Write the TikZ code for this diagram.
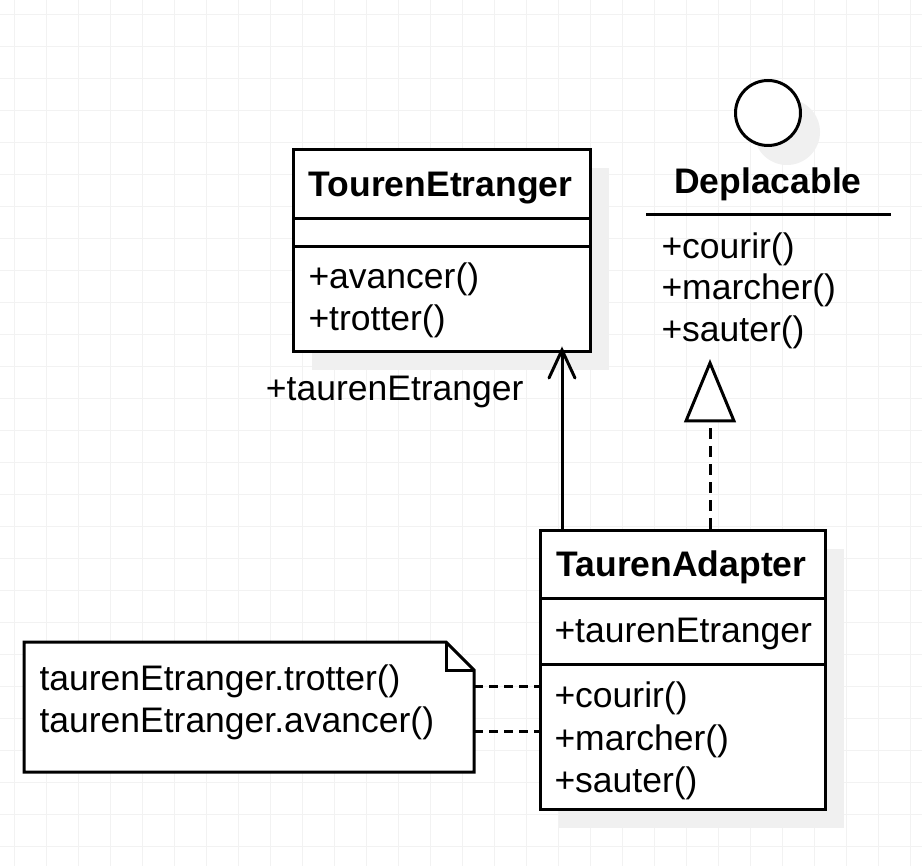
\documentclass[tikz,border=0pt]{standalone}
\usepackage{fontspec}
\setmainfont{Liberation Sans}
\begin{document}
\begin{tikzpicture}[x=1pt,y=-1pt,
  line width=3pt,
  txt/.style={anchor=base west,inner sep=0pt,font=\fontsize{35.5pt}{42pt}\selectfont},
  ttl/.style={anchor=base,inner sep=0pt,font=\fontsize{35.5pt}{42pt}\selectfont\bfseries},
  box/.style={draw=black,fill=white,anchor=north west,inner sep=0pt,line width=3pt},
  shadowc/.style={fill=gray!12,draw=none},
  dashline/.style={dash pattern=on 11pt off 7pt}
]
\useasboundingbox (0,0) rectangle (922,866);
\fill[white] (0,0) rectangle (922,866);
% grid
\foreach \i in {0,...,28} {
  \draw[gray!10,line width=1pt] (14.7+32*\i,0) -- (14.7+32*\i,866);
}
\foreach \j in {0,...,26} {
  \draw[gray!10,line width=1pt] (0,14.7+32*\j) -- (922,14.7+32*\j);
}
% shadows
\fill[shadowc] (312,168) rectangle (609,370);
\fill[shadowc] (559,549) rectangle (844,828);
\fill[shadowc] (787,132) circle (33);

% TourenEtranger
\node[box,minimum width=297pt,minimum height=202pt] (te) at (292,148) {};
\draw (292,219) -- (589,219);
\draw (292,247) -- (589,247);
\node[ttl] (teT) at (440.5,197) {TourenEtranger};
\node[txt] (teM1) at (307,289) {+avancer()};
\node[txt] (teM2) at (307,331) {+trotter()};

% Deplacable interface
\node[circle,draw=black,fill=white,minimum size=65pt,inner sep=0pt] (dcirc) at (768,113) {};
\node[ttl] (deT) at (768,194) {Deplacable};
\coordinate (deL) at (646,215);
\coordinate (deR) at (891,215);
\draw (deL) -- (deR);
\node[txt] (deM1) at (660,259) {+courir()};
\node[txt] (deM2) at (660,300) {+marcher()};
\node[txt] (deM3) at (660,342) {+sauter()};

% TaurenAdapter
\node[box,minimum width=285pt,minimum height=279pt] (ad) at (539,529) {};
\draw (539,599) -- (824,599);
\draw (539,664) -- (824,664);
\node[ttl] (adT) at (681.5,577) {TaurenAdapter};
\node[txt] (adA) at (553,642) {+taurenEtranger};
\node[txt] (adM1) at (553,707) {+courir()};
\node[txt] (adM2) at (553,750) {+marcher()};
\node[txt] (adM3) at (553,792) {+sauter()};

% association
\coordinate (asS) at (562,529);
\coordinate (asE) at (562,350);
\draw (asS) -- (asE);
\draw[line cap=round,line join=miter] (549,378) -- (asE) -- (575,378);
\node[txt,anchor=base east] (asL) at (525,401) {+taurenEtranger};

% realization
\coordinate (reS) at (710,529);
\coordinate (reB) at (710,421);
\coordinate (reA) at (710,363);
\draw[dashline] (reS) -- (reB);
\draw[fill=white,line join=miter] (686,421) -- (reA) -- (734,421) -- cycle;

% note
\coordinate (n1) at (24,642);
\coordinate (n2) at (446,642);
\coordinate (n3) at (474,670);
\coordinate (n4) at (474,772);
\coordinate (n5) at (24,772);
\draw[fill=white,line join=miter] (n1) -- (n2) -- (n3) -- (n4) -- (n5) -- cycle;
\draw[line join=miter] (n2) -- (446,670) -- (n3);
\node[txt] (nt1) at (38,690) {taurenEtranger.trotter()};
\node[txt] (nt2) at (38,732) {taurenEtranger.avancer()};

% note links
\coordinate (l1a) at (474,686);
\coordinate (l1b) at (539,686);
\coordinate (l2a) at (474,731);
\coordinate (l2b) at (539,731);
\draw[dash pattern=on 9pt off 6pt] (l1a) -- (l1b);
\draw[dash pattern=on 9pt off 6pt] (l2a) -- (l2b);
\end{tikzpicture}
\end{document}
